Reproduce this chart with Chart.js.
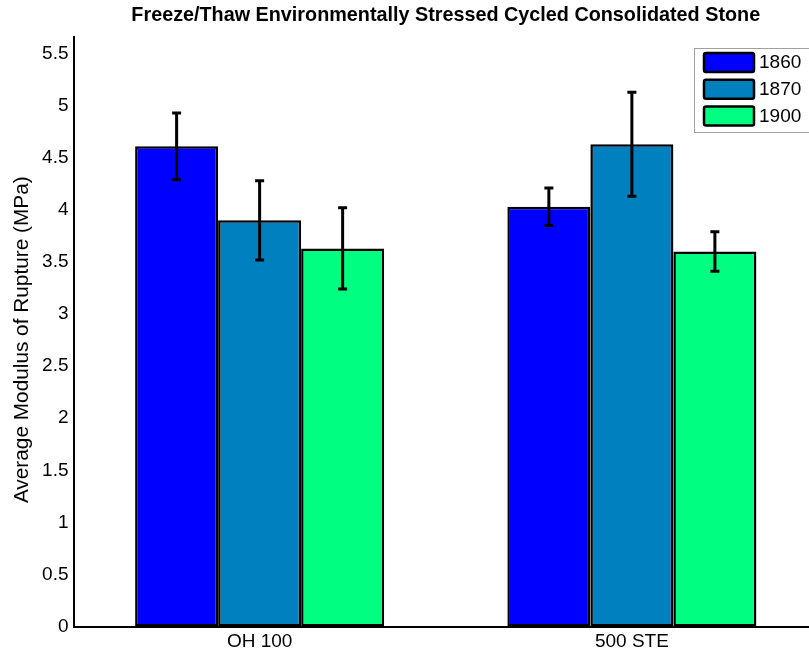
<!DOCTYPE html>
<html>
<head>
<meta charset="utf-8">
<script src="https://cdn.jsdelivr.net/npm/chart.js@4.4.0/dist/chart.umd.min.js"></script>
<style>
  html, body { margin: 0; padding: 0; background: #fff; overflow: hidden; }
  #wrap { position: relative; width: 820px; height: 658px; }
</style>
</head>
<body>
<div id="wrap"><canvas id="c"></canvas></div>
<script>
const titleText = 'Freeze/Thaw Environmentally Stressed Cycled Consolidated Stone';
const yAxisTitle = 'Average Modulus of Rupture (MPa)';
const categories = ['OH 100', '500 STE'];
const seriesNames = ['1860', '1870', '1900'];
const values1860 = [4.61, 4.03];
const values1870 = [3.90, 4.63];
const values1900 = [3.63, 3.60];
const errors1860 = [0.32, 0.18];
const errors1870 = [0.38, 0.50];
const errors1900 = [0.39, 0.19];
const yTicks = [0, 0.5, 1, 1.5, 2, 2.5, 3, 3.5, 4, 4.5, 5, 5.5];
const yTickLabels = ['0', '0.5', '1', '1.5', '2', '2.5', '3', '3.5', '4', '4.5', '5', '5.5'];
const yMin = 0;
const yMax = 5.66;

const colors = ['#0000ff', '#0080bf', '#00ff80'];
const FONT = '"Liberation Sans", Arial, Helvetica, sans-serif';

const textPlugin = {
  id: 'areaTexts',
  afterDraw(chart) {
    const ctx = chart.ctx;
    const a = chart.chartArea;
    const opts = chart.options.plugins.areaTexts;
    ctx.save();
    ctx.fillStyle = '#000';
    ctx.font = 'bold 19.8px ' + FONT;
    ctx.textAlign = 'center';
    ctx.textBaseline = 'middle';
    ctx.fillText(opts.title, (a.left + a.right) / 2, 16);
    ctx.translate(22, (a.top + a.bottom) / 2 + 8);
    ctx.rotate(-Math.PI / 2);
    ctx.font = '20.8px ' + FONT;
    ctx.fillText(opts.yTitle, 0, 0);
    ctx.restore();
  }
};

const errorBarPlugin = {
  id: 'errorBars',
  afterDatasetsDraw(chart) {
    const ctx = chart.ctx;
    const y = chart.scales.y;
    ctx.save();
    ctx.strokeStyle = '#000';
    ctx.lineWidth = 3;
    chart.data.datasets.forEach((ds, i) => {
      const meta = chart.getDatasetMeta(i);
      meta.data.forEach((bar, j) => {
        const v = ds.data[j], e = ds.errors[j];
        const yt = y.getPixelForValue(v + e);
        const yb = y.getPixelForValue(v - e);
        const x = bar.x;
        ctx.beginPath();
        ctx.moveTo(x, yt); ctx.lineTo(x, yb);
        ctx.moveTo(x - 4.5, yt); ctx.lineTo(x + 4.5, yt);
        ctx.moveTo(x - 4.5, yb); ctx.lineTo(x + 4.5, yb);
        ctx.stroke();
      });
    });
    ctx.restore();
  }
};

const legendPlugin = {
  id: 'boxLegend',
  afterDraw(chart) {
    const ctx = chart.ctx;
    ctx.save();
    const bx = 694, by = 48, bw = 140, bh = 84;
    ctx.fillStyle = '#fff';
    ctx.fillRect(bx, by, bw, bh);
    ctx.strokeStyle = '#a0a0a0';
    ctx.lineWidth = 1;
    ctx.strokeRect(bx + 0.5, by + 0.5, bw, bh);
    chart.data.datasets.forEach((ds, i) => {
      const sy = 53 + i * 26.7;
      ctx.fillStyle = ds.backgroundColor;
      ctx.strokeStyle = '#000';
      ctx.lineWidth = 2.5;
      ctx.beginPath();
      if (ctx.roundRect) ctx.roundRect(704, sy, 50, 19, 2); else ctx.rect(704, sy, 50, 19);
      ctx.fill();
      ctx.stroke();
      ctx.fillStyle = '#000';
      ctx.font = '19px ' + FONT;
      ctx.textBaseline = 'middle';
      ctx.textAlign = 'left';
      ctx.fillText(ds.label, 759, sy + 10);
    });
    ctx.restore();
  }
};

const datasets = [
  { label: seriesNames[0], data: values1860, errors: errors1860, backgroundColor: colors[0] },
  { label: seriesNames[1], data: values1870, errors: errors1870, backgroundColor: colors[1] },
  { label: seriesNames[2], data: values1900, errors: errors1900, backgroundColor: colors[2] }
].map(d => Object.assign(d, {
  borderColor: '#000', borderWidth: 2.5, borderSkipped: false,
  categoryPercentage: 0.669, barPercentage: 1.0
}));

new Chart(document.getElementById('c'), {
  type: 'bar',
  data: { labels: categories, datasets },
  options: {
    responsive: true,
    maintainAspectRatio: false,
    animation: false,
    layout: { padding: { left: 0, right: 2, top: 37, bottom: 0 } },
    plugins: {
      legend: { display: false },
      tooltip: { enabled: false },
      title: { display: false },
      areaTexts: { title: titleText, yTitle: yAxisTitle }
    },
    scales: {
      x: {
        grid: { display: false, drawTicks: false },
        border: { display: true, color: '#000', width: 2 },
        ticks: { color: '#000', font: { family: FONT, size: 19 }, padding: 4 },
        afterFit(s) { s.height = 31.5; }
      },
      y: {
        min: yMin, max: yMax,
        grid: { display: false, drawTicks: false },
        border: { display: true, color: '#000', width: 2 },
        afterBuildTicks(s) { s.ticks = yTicks.map(v => ({ value: v })); },
        ticks: {
          color: '#000', font: { family: FONT, size: 19 }, padding: 5,
          callback: (v, i) => yTickLabels[i]
        },
        title: { display: false },
        afterFit(s) { s.width = 73.5; }
      }
    }
  },
  plugins: [errorBarPlugin, legendPlugin, textPlugin]
});
</script>
</body>
</html>
